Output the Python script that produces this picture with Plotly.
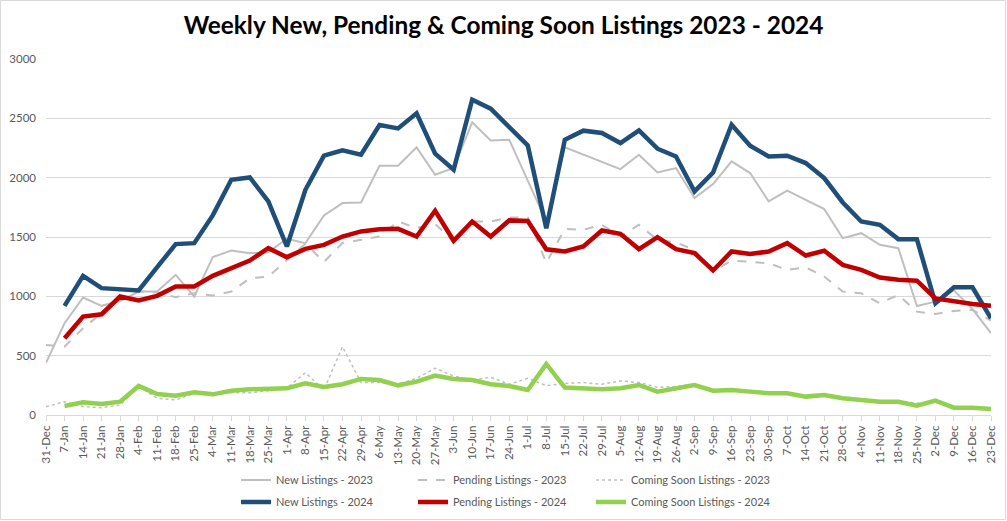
import plotly.graph_objects as go

weeks = ["31-Dec","7-Jan","14-Jan","21-Jan","28-Jan","4-Feb","11-Feb","18-Feb","25-Feb","4-Mar","11-Mar","18-Mar","25-Mar",
         "1-Apr","8-Apr","15-Apr","22-Apr","29-Apr","6-May","13-May","20-May","27-May","3-Jun","10-Jun","17-Jun","24-Jun",
         "1-Jul","8-Jul","15-Jul","22-Jul","29-Jul","5-Aug","12-Aug","19-Aug","26-Aug","2-Sep","9-Sep","16-Sep","23-Sep","30-Sep",
         "7-Oct","14-Oct","21-Oct","28-Oct","4-Nov","11-Nov","18-Nov","25-Nov","2-Dec","9-Dec","16-Dec","23-Dec"]

new_2023 = [440, 773, 990, 920, 960, 1040, 1040, 1181, 998, 1330, 1386, 1364, 1372, 1485, 1448, 1682, 1786, 1791, 2100, 2100,
            2255, 2025, 2081, 2466, 2314, 2320, 1975, 1630, 2255, 2193, 2137, 2072, 2193, 2044, 2081, 1828, 1946, 2137, 2039,
            1800, 1890, 1814, 1735, 1490, 1532, 1434, 1406, 918, 955, 1050, 893, 689]
pending_2023 = [590, 576, 731, 858, 965, 1040, 1032, 993, 1026, 1007, 1040, 1153, 1167, 1308, 1443, 1290, 1450, 1476, 1504, 1631,
                1575, 1610, 1462, 1631, 1631, 1665, 1665, 1283, 1569, 1561, 1603, 1504, 1603, 1476, 1454, 1392, 1209, 1302, 1293,
                1279, 1223, 1243, 1167, 1040, 1026, 942, 1011, 871, 851, 877, 886, 796]
soon_2023 = [70, 112, 70, 62, 84, 239, 141, 127, 183, 177, 188, 188, 205, 225, 357, 211, 576, 273, 273, 259, 309, 394, 329, 295,
             318, 259, 309, 247, 267, 273, 259, 287, 273, 233, 240, 260, 215, 210, 200, 190, 185, 160, 170, 145, 130, 115, 120,
             100, 110, 65, 70, 60]
new_2024 = [None, 920, 1173, 1069, 1055, 1049, 1246, 1440, 1448, 1682, 1982, 2002, 1800, 1420, 1898, 2185, 2230, 2193, 2444, 2415,
            2542, 2202, 2067, 2657, 2581, 2432, 2272, 1573, 2320, 2396, 2376, 2292, 2399, 2244, 2179, 1884, 2044, 2446, 2269,
            2179, 2185, 2123, 1997, 1791, 1631, 1603, 1482, 1482, 941, 1076, 1076, 815]
pending_2024 = [None, 647, 830, 849, 998, 965, 1004, 1083, 1083, 1173, 1237, 1302, 1406, 1330, 1400, 1434, 1504, 1547, 1566, 1569,
                1504, 1721, 1468, 1631, 1504, 1640, 1635, 1396, 1378, 1420, 1555, 1527, 1398, 1499, 1398, 1364, 1218, 1378, 1356,
                1378, 1448, 1344, 1384, 1265, 1223, 1159, 1139, 1132, 983, 956, 936, 920]
soon_2024 = [None, 76, 107, 93, 112, 245, 177, 163, 191, 174, 205, 217, 222, 225, 267, 236, 259, 304, 295, 250, 281, 332, 304, 295,
             259, 245, 211, 430, 231, 225, 217, 225, 253, 197, 225, 253, 205, 211, 197, 183, 183, 155, 169, 141, 127, 112, 112,
             79, 121, 62, 62, 51]

FONT = "Lato"
GRAY = "#bfbfbf"
TXT = "#595959"

# plot area in pixels
L, R, T, B = 46, 16, 59, 106
W, H = 1007, 521
PW, PH = W - L - R, H - T - B

def px_x(px):
    return (px - L) / PW

def px_y(py):
    return (H - B - py) / PH

series = [
    ("New Listings - 2023", new_2023, dict(color=GRAY, width=2), "legend", 241, 480),
    ("Pending Listings - 2023", pending_2023, dict(color=GRAY, width=2, dash="dash"), "legend2", 418, 480),
    ("Coming Soon Listings - 2023", soon_2023, dict(color=GRAY, width=1.5, dash="dot"), "legend3", 596, 480),
    ("New Listings - 2024", new_2024, dict(color="#1f4e79", width=4.5), "legend4", 241, 502),
    ("Pending Listings - 2024", pending_2024, dict(color="#c00000", width=4.5), "legend5", 418, 502),
    ("Coming Soon Listings - 2024", soon_2024, dict(color="#92d050", width=4.5), "legend6", 596, 502),
]

fig = go.Figure()
legends = {}
for name, vals, line, lg, sx, sy in series:
    fig.add_trace(go.Scatter(x=weeks, y=vals, name=name, mode="lines", line=line, legend=lg))
    legends[lg] = dict(orientation="h", xanchor="left", yanchor="middle",
                       x=px_x(sx - 5), y=px_y(sy),
                       font=dict(family=FONT, size=11, color=TXT),
                       bgcolor="rgba(0,0,0,0)", borderwidth=0, itemwidth=30)

fig.update_layout(
    template="none",
    width=W, height=H,
    margin=dict(l=L, r=R, t=T, b=B, autoexpand=False),
    paper_bgcolor="white", plot_bgcolor="white",
    showlegend=True,
    title=dict(text="<b>Weekly New, Pending & Coming Soon Listings 2023 - 2024</b>",
               x=0.5, xanchor="center", xref="container", y=1 - 25 / H, yanchor="middle", yref="container",
               font=dict(family=FONT, size=24.4, color="black")),
    xaxis=dict(type="category", range=[0, 51], tickangle=-90, showgrid=False, automargin=False,
               showline=True, linecolor="#d9d9d9", linewidth=1, ticks="outside", ticklen=5, tickcolor="#d9d9d9",
               tickfont=dict(family=FONT, size=11.5, color=TXT), zeroline=False),
    yaxis=dict(range=[0, 3000], dtick=500, tick0=0, showgrid=True, gridcolor="#d9d9d9", gridwidth=1,
               zeroline=False, showline=False, automargin=False, ticks="", ticklabelstandoff=9,
               tickfont=dict(family=FONT, size=11.5, color=TXT)),
    shapes=[dict(type="rect", xref="paper", yref="paper",
                 x0=px_x(0.5), x1=px_x(1005.5), y0=px_y(519.5), y1=px_y(0.5),
                 line=dict(color="#d9d9d9", width=1), fillcolor="rgba(0,0,0,0)", layer="below")],
    **legends,
)

fig.write_html("out.html", config={"displayModeBar": False},
               post_script="document.body.style.margin='0';document.body.style.overflow='hidden';")
